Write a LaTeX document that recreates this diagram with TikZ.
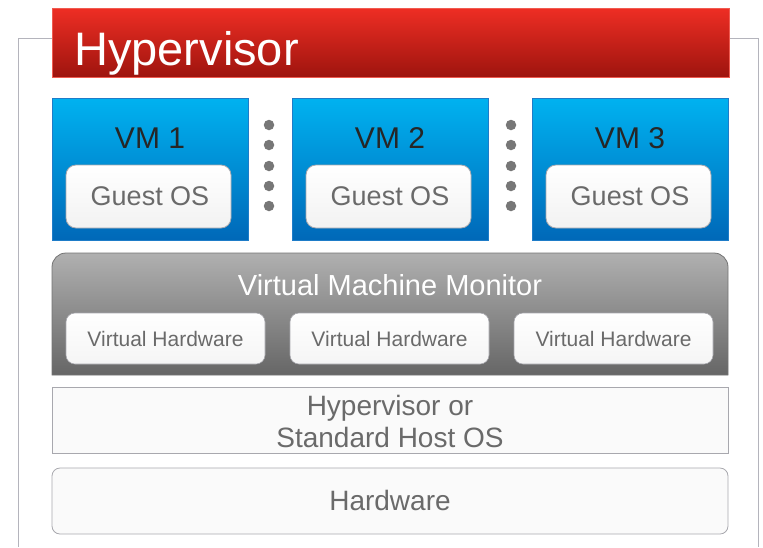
\documentclass[tikz,border=0pt]{standalone}
\usepackage{fontspec}
\setmainfont{Liberation Sans}
\definecolor{framegray}{HTML}{B4B4BC}
\definecolor{redtop}{HTML}{EE2E24}
\definecolor{redbot}{HTML}{9E140E}
\definecolor{redline}{HTML}{F05A50}
\definecolor{bluetop}{HTML}{00B2F0}
\definecolor{bluebot}{HTML}{0068B8}
\definecolor{blueline}{HTML}{1E7CC8}
\definecolor{grtop}{HTML}{B0B0B0}
\definecolor{grbot}{HTML}{666666}
\definecolor{txtgray}{HTML}{6A6A6A}
\definecolor{dotgray}{HTML}{777777}
\definecolor{boxline}{HTML}{A8A8AE}
\tikzset{
  vmbox/.style={draw=blueline, line width=0.8pt, top color=bluetop, bottom color=bluebot},
  guestbox/.style={draw=boxline, line width=0.8pt, rounded corners=10pt, top color=white, bottom color=white!95!black},
  vhbox/.style={draw=boxline, line width=0.6pt, rounded corners=9pt, top color=white, bottom color=white!96!black},
  layerbox/.style={draw=boxline, line width=0.8pt, fill=white!98!black},
  dotsty/.style={circle, fill=dotgray, inner sep=0pt, minimum size=10.5pt},
  lbl/.style={anchor=base, inner sep=0pt, text=txtgray},
}
\begin{document}
\begin{tikzpicture}[x=1pt,y=-1pt]
\useasboundingbox (0,0) rectangle (763,547);
% outer frame
\draw[framegray, line width=1pt] (18,547) -- (18,38) -- (52,38);
\draw[framegray, line width=1pt] (729,38) -- (758,38) -- (758,547);
% red banner
\path[draw=redline, line width=0.8pt, top color=redtop, bottom color=redbot] (52,8) rectangle (729,77);
\node[anchor=base west, inner sep=0pt, text=white, font=\fontsize{47}{50}\selectfont] (title) at (74,65) {Hypervisor};
% VM boxes
\foreach \i/\x in {1/52, 2/292, 3/532}{
  \path[vmbox] (\x,98) rectangle (\x+196,240);
  \node[anchor=base, inner sep=0pt, text=black!85, font=\fontsize{30}{32}\selectfont] (vm\i) at (\x+98,148) {VM \i};
  \path[guestbox] (\x+14,165) rectangle (\x+179,228);
  \node[lbl, font=\fontsize{27}{30}\selectfont] (guest\i) at (\x+98,205) {Guest OS};
}
% dots
\foreach \x/\n in {269/a, 511/b}{
  \foreach \y/\k in {125/1,145/2,166/3,186/4,206/5}{
    \node[dotsty] (dot\n\k) at (\x,\y) {};
  }
}
% VMM
\path[draw=black!55, line width=0.8pt, top color=grtop, bottom color=grbot]
  (52,375) [rounded corners=14pt] -- (52,253) -- (728,253) [sharp corners] -- (728,375) -- cycle;
\node[anchor=base, inner sep=0pt, text=white, font=\fontsize{29}{32}\selectfont] (vmm) at (390,295) {Virtual Machine Monitor};
\foreach \i/\x in {1/66, 2/290, 3/514}{
  \path[vhbox] (\x,313) rectangle (\x+199,364);
  \node[lbl, font=\fontsize{21}{24}\selectfont] (vh\i) at (\x+99.5,346) {Virtual Hardware};
}
% host OS
\path[layerbox] (52,387) rectangle (728,453);
\node[lbl, font=\fontsize{28}{32}\selectfont] (host1) at (390,415) {Hypervisor or};
\node[lbl, font=\fontsize{28}{32}\selectfont] (host2) at (390,447) {Standard Host OS};
% hardware
\path[layerbox, rounded corners=8pt] (52,468) rectangle (728,534);
\node[lbl, font=\fontsize{28}{32}\selectfont] (hw) at (390,510) {Hardware};
\end{tikzpicture}
\end{document}
